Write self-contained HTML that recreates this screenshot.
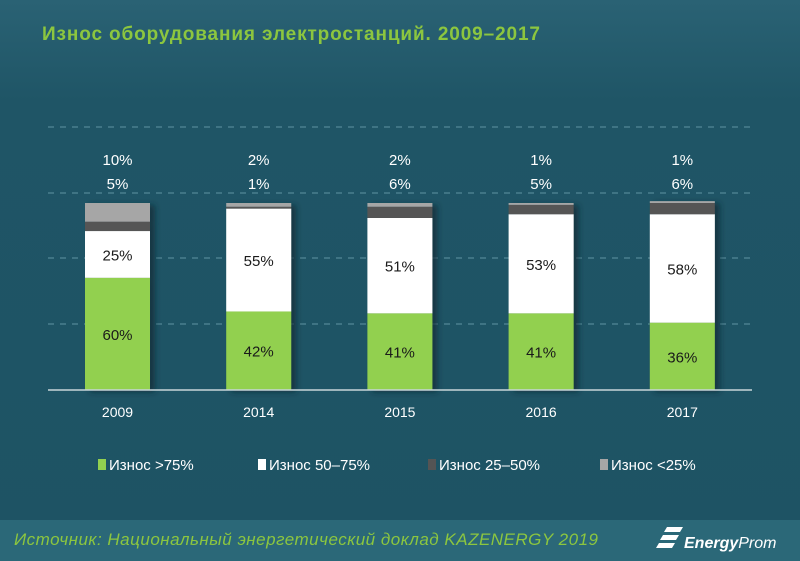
<!DOCTYPE html>
<html><head><meta charset="utf-8"><style>
body{margin:0;width:800px;height:561px;overflow:hidden;font-family:"Liberation Sans","DejaVu Sans",sans-serif}
#bg{position:absolute;left:0;top:0;width:800px;height:561px;background:linear-gradient(180deg,#2a6274 0%,#1f5566 18%,#1e5364 100%)}
</style></head><body>
<div id="bg"></div>
<svg width="800" height="561" style="position:absolute;left:0;top:0">
<defs><filter id="sh" x="-20%" y="-10%" width="150%" height="130%"><feDropShadow dx="5" dy="2" stdDeviation="3" flood-color="#0b2a33" flood-opacity="0.7"/></filter></defs>
<rect x="0" y="520" width="800" height="41" fill="#2b6878"/>
<text x="42" y="40" fill="#8cc63f" font-size="19" font-weight="bold" textLength="498">Износ оборудования электростанций. 2009–2017</text>
<g id="grid"></g><g id="bars"></g>
<line x1="48" x2="752" y1="390" y2="390" stroke="#c8d6da" stroke-width="1.5"/>
<g id="legend" font-size="14" fill="#ffffff"></g>
<text x="14" y="545" fill="#8cc63f" font-size="17" font-style="italic" textLength="584">Источник: Национальный  энергетический доклад KAZENERGY 2019</text>
<g>
<path d="M667 527 h16 l-3 5 h-16 z M663 535 h16 l-3 5 h-16 z M659 543 h16 l-3 5 h-16 z" fill="#ffffff"/>
<text x="684" y="548" fill="#ffffff" font-size="16" font-style="italic" font-weight="bold">Energy<tspan font-weight="normal">Prom</tspan></text>
</g>
</svg>
<script>
const years=["2009","2014","2015","2016","2017"];
const over75=[60,42,41,41,36];
const w50_75=[25,55,51,53,58];
const w25_50=[5,1,6,5,6];
const under25=[10,2,2,1,1];
const seriesNames=["Износ >75%","Износ 50–75%","Износ 25–50%","Износ <25%"];
const colors=["#92d050","#ffffff","#545454","#a6a6a6"];
const NS="http://www.w3.org/2000/svg";
const base=390,scale=1.87,x0=117.5,step=141.2,bw=65;
const xc=i=>x0+i*step;
const y=v=>base-v*scale;
function mk(t,a,p){const e=document.createElementNS(NS,t);for(const k in a)e.setAttribute(k,a[k]);p.appendChild(e);return e;}
const grid=document.getElementById('grid');
[127,193,258,324].forEach(gy=>{const l=mk('line',{x1:48,x2:752,y1:gy,y2:gy,stroke:'#5f93a2','stroke-width':1,'stroke-dasharray':'6,6'},grid);

});
const bars=document.getElementById('bars');
const series=[over75,w50_75,w25_50,under25];
years.forEach((yr,i)=>{
 const g=mk('g',{filter:'url(#sh)'},bars);
 
 
 let cum=0;
 series.forEach((s,k)=>{
  const r=mk('rect',{x:xc(i)-bw/2,y:y(cum+s[i]),width:bw,height:s[i]*scale,fill:colors[k]},g);
  
  
  if(k<2){const t=mk('text',{x:xc(i),y:y(cum+s[i]/2)+6,'text-anchor':'middle','font-size':15,fill:'#1a1a1a'},bars);
   t.textContent=s[i]+'%';
   
   }
  cum+=s[i];
 });
 const a=mk('text',{x:xc(i),y:165,'text-anchor':'middle','font-size':15,fill:'#ffffff'},bars);a.textContent=under25[i]+'%';
 
 
 const b=mk('text',{x:xc(i),y:189,'text-anchor':'middle','font-size':15,fill:'#ffffff'},bars);b.textContent=w25_50[i]+'%';
 
 
 const c=mk('text',{x:xc(i),y:417,'text-anchor':'middle','font-size':14,fill:'#ffffff'},bars);c.textContent=yr;
 
 
});
const lg=document.getElementById('legend');
const lx=[98,258,428,600];
seriesNames.forEach((n,k)=>{
 const g=mk('g',{},lg);
 
 
 mk('rect',{x:lx[k],y:459,width:8,height:11,fill:colors[k]},g);
 const t=mk('text',{x:lx[k]+11,y:470,fill:'#ffffff','font-size':15},g);t.textContent=n;
});
</script>
</body></html>
